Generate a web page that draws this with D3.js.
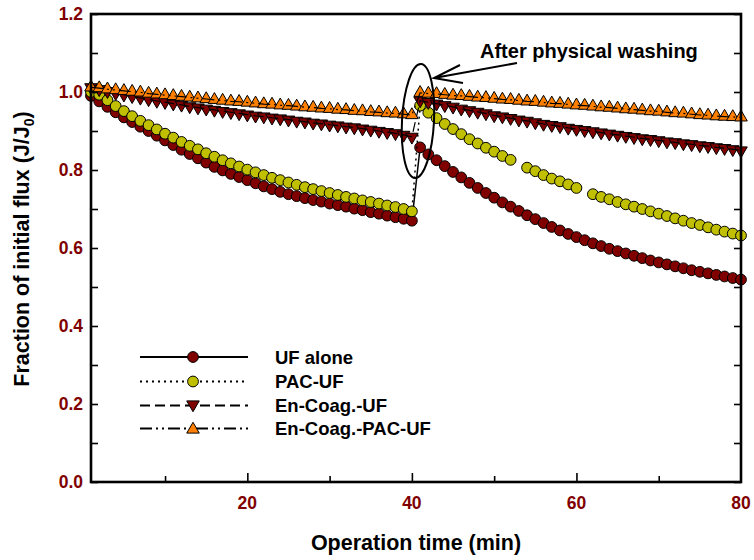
<!DOCTYPE html>
<html><head><meta charset="utf-8">
<script src="https://cdn.jsdelivr.net/npm/d3@7"></script>
<style>body{margin:0;background:#fff}svg{display:block}text{font-family:"Liberation Sans",Arial,sans-serif;font-weight:bold}</style>
</head><body>
<svg id="c" width="754" height="560"></svg>
<script>
const time = d3.range(1, 81);
const ufAlone = [0.990,0.976,0.962,0.948,0.935,0.923,0.911,0.900,0.888,0.876,0.864,0.852,0.841,0.830,0.819,0.808,0.799,0.790,0.782,0.774,0.766,0.758,0.751,0.744,0.738,0.733,0.728,0.723,0.719,0.714,0.710,0.706,0.701,0.697,0.692,0.688,0.683,0.679,0.675,0.670,
 0.858,0.840,0.825,0.810,0.795,0.781,0.767,0.754,0.741,0.729,0.717,0.706,0.695,0.684,0.674,0.664,0.654,0.645,0.636,0.628,0.620,0.612,0.605,0.598,0.592,0.586,0.580,0.574,0.568,0.563,0.558,0.553,0.548,0.543,0.539,0.535,0.531,0.527,0.523,0.519];
const pacUF = [1.000,0.993,0.979,0.964,0.951,0.938,0.926,0.915,0.904,0.893,0.883,0.872,0.862,0.853,0.843,0.834,0.825,0.817,0.809,0.801,0.794,0.787,0.780,0.774,0.768,0.762,0.756,0.751,0.746,0.741,0.736,0.731,0.727,0.722,0.718,0.714,0.709,0.705,0.700,0.694,
 0.965,0.947,0.933,0.918,0.905,0.892,0.879,0.868,0.857,0.847,0.836,0.826,null,0.806,0.797,0.787,0.778,0.771,0.763,0.754,null,0.738,0.731,0.725,0.718,0.712,0.706,0.700,0.694,0.688,0.682,0.676,0.670,0.664,0.659,0.653,0.647,0.642,0.637,0.632];
const enCoagUF = [1.012,1.007,1.002,0.997,0.993,0.989,0.985,0.981,0.977,0.974,0.970,0.967,0.963,0.960,0.957,0.954,0.951,0.948,0.945,0.942,0.939,0.937,0.934,0.932,0.929,0.926,0.924,0.921,0.919,0.916,0.914,0.911,0.909,0.906,0.903,0.900,0.897,0.894,0.890,0.885,
 0.978,0.974,0.970,0.966,0.962,0.957,0.953,0.949,0.945,0.940,0.937,0.933,0.929,0.926,0.922,0.918,0.915,0.912,0.908,0.905,0.902,0.899,0.896,0.893,0.890,0.887,0.884,0.881,0.879,0.876,0.873,0.871,0.868,0.866,0.863,0.861,0.858,0.856,0.853,0.850];
const enCoagPacUF = [1.012,1.010,1.007,1.005,1.003,1.001,0.999,0.996,0.994,0.992,0.990,0.988,0.986,0.984,0.982,0.980,0.978,0.976,0.975,0.973,0.971,0.969,0.968,0.966,0.965,0.963,0.961,0.960,0.958,0.957,0.955,0.954,0.952,0.951,0.949,0.948,0.946,0.945,0.943,0.941,
 0.998,0.996,0.995,0.993,0.991,0.990,0.988,0.986,0.985,0.983,0.981,0.980,0.978,0.976,0.975,0.973,0.971,0.970,0.968,0.966,0.965,0.963,0.961,0.960,0.958,0.956,0.955,0.953,0.951,0.950,0.948,0.946,0.945,0.943,0.941,0.940,0.938,0.937,0.936,0.935];
const seriesNames = ["UF alone","PAC-UF","En-Coag.-UF","En-Coag.-PAC-UF"];
const xTickLabels = [20,40,60,80];
const yTickLabels = ["0.0","0.2","0.4","0.6","0.8","1.0","1.2"];
const annotation = "After physical washing";

const svg = d3.select("#c");
const L=91,R=741,T=14,B=482;
const x = d3.scaleLinear().domain([1,80]).range([L,R]);
const y = d3.scaleLinear().domain([0,1.2]).range([B,T]);
const darkRed="#800000";

const styles = [
 {vals:ufAlone, fill:"#800000", sym:"circle", dash:null},
 {vals:pacUF, fill:"#C0C000", sym:"circle", dash:"2,4"},
 {vals:enCoagUF, fill:"#800000", sym:"down", dash:"10,5"},
 {vals:enCoagPacUF, fill:"#FF8000", sym:"up", dash:"12,4,2,4,2,4"}
];
const triSize=68;
function drawMarker(g, sym, fill, cx, cy){
  if(sym==="circle") g.append("circle").attr("cx",cx).attr("cy",cy).attr("r",5.4).attr("fill",fill).attr("stroke","#000").attr("stroke-width",1);
  else g.append("path").attr("d",d3.symbol(d3.symbolTriangle,triSize)()).attr("transform",`translate(${cx},${cy})`+(sym==="down"?" rotate(180)":"")).attr("fill",fill).attr("stroke","#000").attr("stroke-width",1);
}
const line = d3.line().defined(d=>d[1]!=null).x(d=>x(d[0])).y(d=>y(d[1]));
const plot = svg.append("g");
styles.forEach(s=>{
  const pts = time.map((t,i)=>[t,s.vals[i]]);
  if(s.sym==="circle") plot.append("path").attr("d",line(pts)).attr("fill","none").attr("stroke","#000").attr("stroke-width",1.5).attr("stroke-dasharray",s.dash);
  pts.filter(p=>p[1]!=null).forEach(p=>drawMarker(plot,s.sym,s.fill,x(p[0]),y(p[1])));
  if(s.sym!=="circle") plot.append("path").attr("d",line(pts)).attr("fill","none").attr("stroke","#000").attr("stroke-width",1.2).attr("stroke-dasharray",s.dash);
});

// axes
const yAx = svg.append("g").attr("transform",`translate(${L},0)`)
 .call(d3.axisRight(y).tickValues(d3.range(0,13).map(i=>i/10)).tickSize(7).tickFormat(""));
const yAxR = svg.append("g").attr("transform",`translate(${R},0)`)
 .call(d3.axisLeft(y).tickValues(d3.range(0,13).map(i=>i/10)).tickSize(7).tickFormat(""));
const xAx = svg.append("g").attr("transform",`translate(0,${B})`)
 .call(d3.axisTop(x).tickValues([10,20,30,40,50,60,70]).tickSize(8).tickFormat(""));
[yAx,yAxR,xAx].forEach(a=>{a.select(".domain").remove();a.selectAll("line").attr("stroke","#000").attr("stroke-width",1.6);});
xAx.selectAll(".tick line").attr("y2",d=>d%20===0?-9:-6);
svg.append("rect").attr("x",L).attr("y",T).attr("width",R-L).attr("height",B-T).attr("fill","none").attr("stroke","#000").attr("stroke-width",2.6);

// tick labels
svg.append("g").selectAll("text").data(yTickLabels).join("text")
 .attr("x",83).attr("y",d=>y(+d)).attr("dy","0.36em").attr("text-anchor","end")
 .attr("fill",darkRed).attr("font-size",17.5).text(d=>d);
svg.append("g").selectAll("text").data(xTickLabels).join("text")
 .attr("x",d=>x(d)).attr("y",509).attr("text-anchor","middle")
 .attr("fill",darkRed).attr("font-size",17.5).text(d=>d);

// axis titles
svg.append("text").attr("x",416).attr("y",550).attr("text-anchor","middle").attr("font-size",21.5).attr("fill","#000").text("Operation time (min)");
const yt = svg.append("text").attr("transform","translate(29,249) rotate(-90)").attr("text-anchor","middle").attr("font-size",21.5).attr("fill","#000");
yt.append("tspan").text("Fraction of initial flux (J/J");
yt.append("tspan").attr("font-size",14).attr("dy",5).text("0");
yt.append("tspan").attr("dy",-5).text(")");

// legend
const legY=[357,381.5,405.5,428.5];
styles.forEach((s,i)=>{
  svg.append("line").attr("x1",140).attr("x2",248).attr("y1",legY[i]).attr("y2",legY[i]).attr("stroke","#000").attr("stroke-width",2).attr("stroke-dasharray",s.dash);
  drawMarker(svg,s.sym,s.fill,193,legY[i]+(s.sym==="down"?-1:s.sym==="up"?1:0));
  svg.append("text").attr("x",275).attr("y",legY[i]+6.5).attr("font-size",18.5).attr("fill","#000").text(seriesNames[i]);
});

// annotation
svg.append("ellipse").attr("cx",418).attr("cy",121).attr("rx",16).attr("ry",57).attr("transform","rotate(3,418,121)").attr("fill","none").attr("stroke","#000").attr("stroke-width",2);
svg.append("path").attr("d","M517,63 L434,78 M460,65 L434,78 L463,83").attr("fill","none").attr("stroke","#000").attr("stroke-width",2);
svg.append("text").attr("x",480).attr("y",58).attr("font-size",20).attr("fill","#000").text(annotation);
</script>
</body></html>
